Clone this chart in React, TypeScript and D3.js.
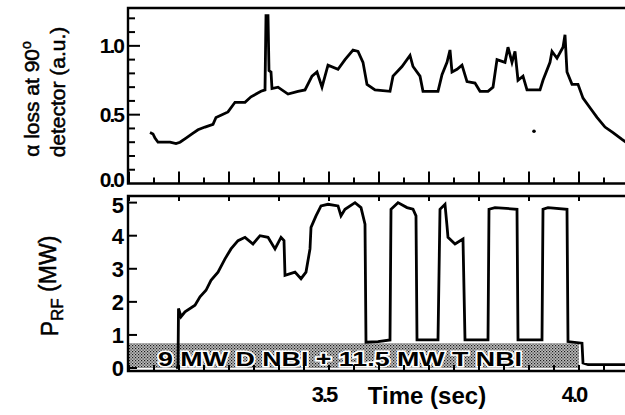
import React from 'react';
import * as d3 from 'd3';

// alpha loss trace (top panel), time in sec, signal in a.u.
const lossTime = [3.142, 3.148, 3.152, 3.158, 3.182, 3.194, 3.202, 3.214, 3.226, 3.238, 3.252, 3.268, 3.274, 3.286, 3.298, 3.312, 3.332, 3.344, 3.364, 3.372, 3.374, 3.378, 3.380, 3.384, 3.386, 3.398, 3.418, 3.438, 3.452, 3.466, 3.476, 3.486, 3.498, 3.518, 3.532, 3.548, 3.558, 3.568, 3.576, 3.592, 3.622, 3.628, 3.646, 3.662, 3.668, 3.682, 3.688, 3.718, 3.726, 3.736, 3.742, 3.746, 3.756, 3.766, 3.776, 3.792, 3.802, 3.818, 3.828, 3.836, 3.852, 3.858, 3.866, 3.872, 3.878, 3.888, 3.896, 3.922, 3.928, 3.942, 3.946, 3.956, 3.968, 3.972, 3.976, 3.986, 3.998, 4.008, 4.022, 4.036, 4.052, 4.068, 4.086, 4.094];
const lossValue = [0.37, 0.36, 0.33, 0.30, 0.30, 0.29, 0.30, 0.33, 0.36, 0.39, 0.41, 0.43, 0.48, 0.50, 0.52, 0.59, 0.59, 0.63, 0.67, 0.68, 1.22, 1.22, 0.82, 0.81, 0.69, 0.70, 0.65, 0.67, 0.68, 0.78, 0.81, 0.70, 0.86, 0.83, 0.90, 0.97, 0.96, 0.88, 0.72, 0.68, 0.67, 0.78, 0.85, 0.93, 0.85, 0.78, 0.67, 0.67, 0.79, 0.88, 0.97, 0.81, 0.83, 0.86, 0.74, 0.73, 0.67, 0.67, 0.70, 0.90, 0.88, 0.99, 0.88, 0.96, 0.75, 0.78, 0.68, 0.68, 0.75, 0.88, 0.96, 0.91, 0.99, 1.08, 0.81, 0.72, 0.72, 0.62, 0.55, 0.48, 0.41, 0.37, 0.32, 0.30];
const strayDot = [3.91, 0.38];

// RF power trace (bottom panel), MW
const rfTime = [3.194, 3.198, 3.199, 3.204, 3.212, 3.232, 3.242, 3.254, 3.264, 3.278, 3.292, 3.304, 3.318, 3.332, 3.348, 3.362, 3.378, 3.392, 3.404, 3.410, 3.412, 3.432, 3.444, 3.454, 3.462, 3.464, 3.474, 3.484, 3.498, 3.518, 3.524, 3.532, 3.552, 3.564, 3.572, 3.574, 3.598, 3.622, 3.624, 3.638, 3.656, 3.668, 3.674, 3.676, 3.718, 3.722, 3.732, 3.736, 3.738, 3.752, 3.768, 3.772, 3.818, 3.820, 3.832, 3.876, 3.878, 3.926, 3.928, 3.938, 3.976, 3.978, 4.006, 4.008, 4.018, 4.094];
const rfValue = [0.0, 0.03, 1.8, 1.55, 1.7, 1.9, 2.15, 2.35, 2.65, 2.9, 3.3, 3.6, 3.85, 3.95, 3.75, 4.0, 3.95, 3.6, 3.95, 3.85, 2.8, 2.9, 2.7, 2.9, 3.6, 4.25, 4.6, 4.9, 4.95, 4.9, 4.6, 4.8, 5.0, 4.85, 4.35, 0.78, 0.8, 0.85, 4.8, 5.0, 4.85, 4.8, 4.6, 0.85, 0.85, 4.8, 4.95, 4.3, 3.95, 3.75, 3.9, 0.85, 0.85, 4.8, 4.85, 4.8, 0.85, 0.85, 4.8, 4.85, 4.8, 0.8, 0.75, 0.15, 0.1, 0.1];

// NBI window
const nbiTime = [3.098, 4.0];
const nbiLevel = 0.75;
const nbiLabel = '9 MW D NBI + 11.5 MW T NBI';

const lossTicks = [0.0, 0.5, 1.0];
const rfTicks = [0, 1, 2, 3, 4, 5];
const timeLabels = [3.5, 4.0];

const W = 625;
const H = 415;
const FONT = "'Liberation Sans', Arial, sans-serif";

export default function App() {
  const x = d3.scaleLinear().domain([3.098, 4.092]).range([128, 625]);
  const yTop = d3.scaleLinear().domain([0, 1.275]).range([183.5, 8]);
  const yBot = d3.scaleLinear().domain([-0.09, 5.2]).range([371, 196]);

  const lossLine = d3
    .line<number>()
    .x((_, i) => x(lossTime[i]))
    .y((d) => yTop(d));
  const rfLine = d3
    .line<number>()
    .x((_, i) => x(rfTime[i]))
    .y((d) => yBot(d));

  // minor tick grids
  const topMinor = d3.range(1, 13).map((k) => k / 10);
  const timeMinor = d3.range(0, 21).map((k) => 3.1 + k * 0.05);
  const timeMajor = d3.range(0, 10).map((k) => 3.1 + k * 0.1);

  const frame = 2.4;

  return (
    <svg width={W} height={H} style={{ position: 'absolute', left: 0, top: 0, background: '#fff' }}
      fontFamily={FONT}>
      <defs>
        <pattern id="dots" width="3" height="3" patternUnits="userSpaceOnUse">
          <rect width="3" height="3" fill="#bdbdbd" />
          <rect x="0" y="0" width="1.2" height="1.2" fill="#1a1a1a" />
          <rect x="1.5" y="1.5" width="1.2" height="1.2" fill="#333" />
        </pattern>
      </defs>

      {/* ---- top panel ---- */}
      <g>
        {topMinor.map((v) => {
          const major = Math.abs(v - 0.5) < 1e-6 || Math.abs(v - 1.0) < 1e-6;
          return (
            <line key={'tm' + v} x1={x.range()[0]} x2={x.range()[0] + (major ? 12 : 7)}
              y1={yTop(v)} y2={yTop(v)} stroke="#000" strokeWidth={2} />
          );
        })}
        {timeMinor.map((t, i) => (
          <line key={'tb' + i} x1={x(t)} x2={x(t)} y1={yTop(0)}
            y2={yTop(0) - (i % 2 === 0 ? 12 : 6)} stroke="#000" strokeWidth={2} />
        ))}
        <path d={`M${W + 5},${yTop.range()[1]}H${x.range()[0]}V${yTop(0)}H${W + 5}`}
          fill="none" stroke="#000" strokeWidth={frame} />
        {lossTicks.map((v) => (
          <text key={'tl' + v} x={123} y={v === 0 ? yTop(v) - 4 : yTop(v)} dy="0.36em"
            textAnchor="end" fontSize={21} fontWeight="bold" letterSpacing={-2}>
            {v.toFixed(1)}
          </text>
        ))}
        <path d={lossLine(lossValue) ?? ''} fill="none" stroke="#000" strokeWidth={2.8}
          strokeLinejoin="miter" />
        <circle cx={x(strayDot[0])} cy={yTop(strayDot[1])} r={1.8} fill="#000" />
        <g transform="translate(32,99) rotate(-90)">
          <text textAnchor="middle" dy="0.35em" fontSize={21} stroke="#000" strokeWidth={0.5}>
            α loss at 90
            <tspan fontSize={14} dy="-0.6em">o</tspan>
          </text>
        </g>
        <g transform="translate(58,92) rotate(-90)">
          <text textAnchor="middle" dy="0.35em" fontSize={21} stroke="#000" strokeWidth={0.5}>
            detector (a.u.)
          </text>
        </g>
      </g>

      {/* ---- bottom panel ---- */}
      <g>
        <rect x={x(nbiTime[0])} y={yBot(nbiLevel)} width={x(nbiTime[1]) - x(nbiTime[0])}
          height={yBot(0) - yBot(nbiLevel)} fill="url(#dots)" />
        <text x={158} y={366} fontSize={21} fontWeight="bold" textLength={364}
          lengthAdjust="spacingAndGlyphs" stroke="#fff" strokeWidth={3} paintOrder="stroke"
          fill="#000">
          {nbiLabel}
        </text>
        {rfTicks.map((v) => (
          <line key={'rt' + v} x1={x.range()[0]} x2={x.range()[0] + 9}
            y1={yBot(v)} y2={yBot(v)} stroke="#000" strokeWidth={2} />
        ))}
        {timeMinor.map((t, i) => (
          <line key={'rb' + i} x1={x(t)} x2={x(t)} y1={yBot.range()[0]}
            y2={yBot.range()[0] - 6} stroke="#000" strokeWidth={2} />
        ))}
        {timeMajor.map((t, i) => (
          <line key={'rtop' + i} x1={x(t)} x2={x(t)} y1={yBot.range()[1]}
            y2={yBot.range()[1] + 5} stroke="#000" strokeWidth={2} />
        ))}
        <path d={`M${W + 5},${yBot.range()[1]}H${x.range()[0]}V${yBot.range()[0]}H${W + 5}`}
          fill="none" stroke="#000" strokeWidth={frame} />
        <path d={rfLine(rfValue) ?? ''} fill="none" stroke="#000" strokeWidth={2.8} />
        {rfTicks.map((v) => (
          <text key={'rl' + v} x={124} y={v === 5 ? yBot(v) + 2 : yBot(v)} dy="0.36em"
            textAnchor="end" fontSize={22} fontWeight="bold">
            {v}
          </text>
        ))}
        <g transform="translate(50,286) rotate(-90)">
          <text textAnchor="middle" dy="0.35em" fontSize={23} stroke="#000" strokeWidth={0.5}>
            P<tspan fontSize={17} dy="0.3em">RF</tspan>
            <tspan dy="-0.3em"> (MW)</tspan>
          </text>
        </g>
        {timeLabels.map((t) => (
          <text key={'xl' + t} x={x(t) - 5} y={394} dy="0.36em" textAnchor="middle"
            fontSize={22} fontWeight="bold" letterSpacing={-2}>
            {t.toFixed(1)}
          </text>
        ))}
        <text x={427} y={395} dy="0.36em" textAnchor="middle" fontSize={24} fontWeight="bold">
          Time (sec)
        </text>
      </g>
    </svg>
  );
}
